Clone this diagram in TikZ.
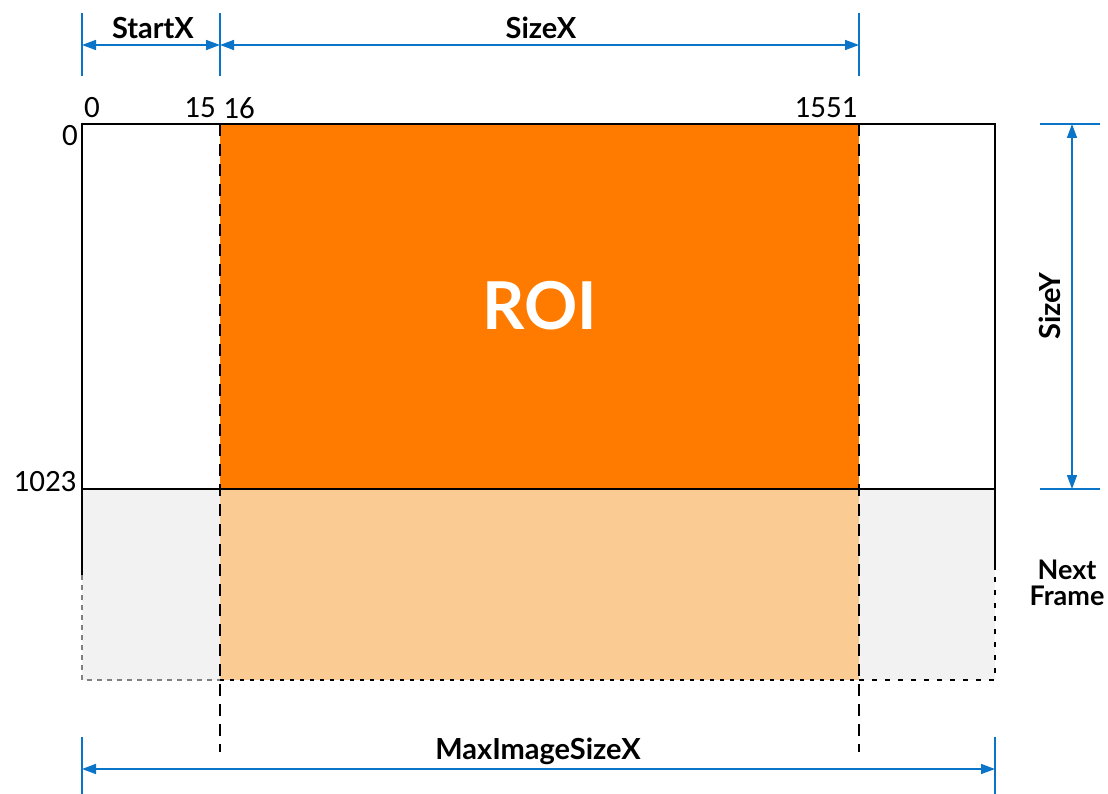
\documentclass[tikz,border=0pt]{standalone}
\usepackage{fontspec}
\setmainfont{Lato}
\newfontfamily\numfont{Carlito}
\usetikzlibrary{arrows.meta}
\definecolor{roiorange}{HTML}{FF7B00}
\definecolor{lightorange}{HTML}{FBCB94}
\definecolor{lightgrey}{HTML}{F2F2F2}
\definecolor{dimblue}{HTML}{0A74C8}
\tikzset{
  dimline/.style={dimblue, line width=1.6pt},
  dimarrow/.style={dimblue, line width=1.6pt, {Triangle[length=14pt,width=10pt]}-{Triangle[length=14pt,width=10pt]}},
  dimlabel/.style={font=\fontsize{29}{30}\selectfont\bfseries, inner sep=0pt},
  numlabel/.style={font=\numfont\fontsize{31}{32}\selectfont, inner sep=0pt},
  frame/.style={black, line width=1.6pt},
  guide/.style={black, line width=1.8pt, dash pattern=on 12pt off 8pt},
}
\begin{document}
\begin{tikzpicture}[x=1pt,y=-1pt]
\useasboundingbox (0,0) rectangle (1108,794);
% fills
\fill[roiorange] (220,124) rectangle (859,489);
\fill[lightorange] (220,489) rectangle (859,680);
\fill[lightgrey] (82,489) rectangle (220,680);
\fill[lightgrey] (859,489) rectangle (995,680);
% frame
\coordinate (tl) at (82,124);
\coordinate (tr) at (995,124);
\coordinate (lm) at (82,575);
\coordinate (rm) at (995,570);
\coordinate (bl) at (82,680);
\coordinate (br) at (995,680);
\coordinate (b1) at (220,680);
\coordinate (b2) at (859,680);
\draw[frame] (lm) -- (tl) -- (tr) -- (rm);
\draw[gray, line width=1.2pt, dash pattern=on 5pt off 5pt] (lm) -- (bl) -- (b1);
\draw[black, line width=1.6pt, dash pattern=on 4pt off 6pt] (b1) -- (b2);
\draw[black, line width=1.6pt, dash pattern=on 5pt off 8pt] (b2) -- (br) -- (rm);
\coordinate (ml) at (82,489);
\coordinate (mr) at (995,489);
\draw[black, line width=1.2pt] (ml) -- (mr);
% guides
\coordinate (g1t) at (220,124);
\coordinate (g1b) at (220,752);
\coordinate (g2t) at (859,124);
\coordinate (g2b) at (859,752);
\draw[guide] (g1t) -- (g1b);
\draw[guide] (g2t) -- (g2b);
% ROI
\node[text=white, font=\fontsize{66}{68}\selectfont\bfseries] (roi) at (540,306) {ROI};
% top dimensions
\coordinate (t0a) at (82,13); \coordinate (t0b) at (82,76);
\coordinate (t1a) at (220,13); \coordinate (t1b) at (220,76);
\coordinate (t2a) at (859,13); \coordinate (t2b) at (859,76);
\draw[dimline] (t0a) -- (t0b);
\draw[dimline] (t1a) -- (t1b);
\draw[dimline] (t2a) -- (t2b);
\coordinate (sx0) at (82,45); \coordinate (sx1) at (220,45); \coordinate (sx2) at (859,45);
\draw[dimarrow] (sx0) -- (sx1);
\draw[dimarrow] (sx1) -- (sx2);
\node[dimlabel] (startx) at (153,28) {StartX};
\node[dimlabel] (sizex) at (541,28) {SizeX};
% right dimension
\coordinate (r1a) at (1040,124); \coordinate (r1b) at (1100,124);
\coordinate (r2a) at (1040,489); \coordinate (r2b) at (1100,489);
\draw[dimline] (r1a) -- (r1b);
\draw[dimline] (r2a) -- (r2b);
\coordinate (sy1) at (1072,124); \coordinate (sy2) at (1072,489);
\draw[dimarrow] (sy1) -- (sy2);
\node[dimlabel, rotate=90] (sizey) at (1050,306) {SizeY};
% bottom dimension
\coordinate (bb1a) at (82,737); \coordinate (bb1b) at (82,794);
\coordinate (bb2a) at (995,737); \coordinate (bb2b) at (995,794);
\draw[dimline] (bb1a) -- (bb1b);
\draw[dimline] (bb2a) -- (bb2b);
\coordinate (mx1) at (82,769); \coordinate (mx2) at (995,769);
\draw[dimarrow] (mx1) -- (mx2);
\node[dimlabel] (maxx) at (538,751) {MaxImageSizeX};
% next frame
\node[dimlabel, align=center, font=\fontsize{27}{26}\selectfont\bfseries] (next) at (1067,583) {Next\\Frame};
% number labels
\node[numlabel] (n0) at (92,108) {0};
\node[numlabel] (n15) at (200,108) {15};
\node[numlabel] (n16) at (239,108) {16};
\node[numlabel] (n1551) at (826,108) {1551};
\node[numlabel] (v0) at (70,136) {0};
\node[numlabel] (v1023) at (45,482) {1023};
\end{tikzpicture}
\end{document}
